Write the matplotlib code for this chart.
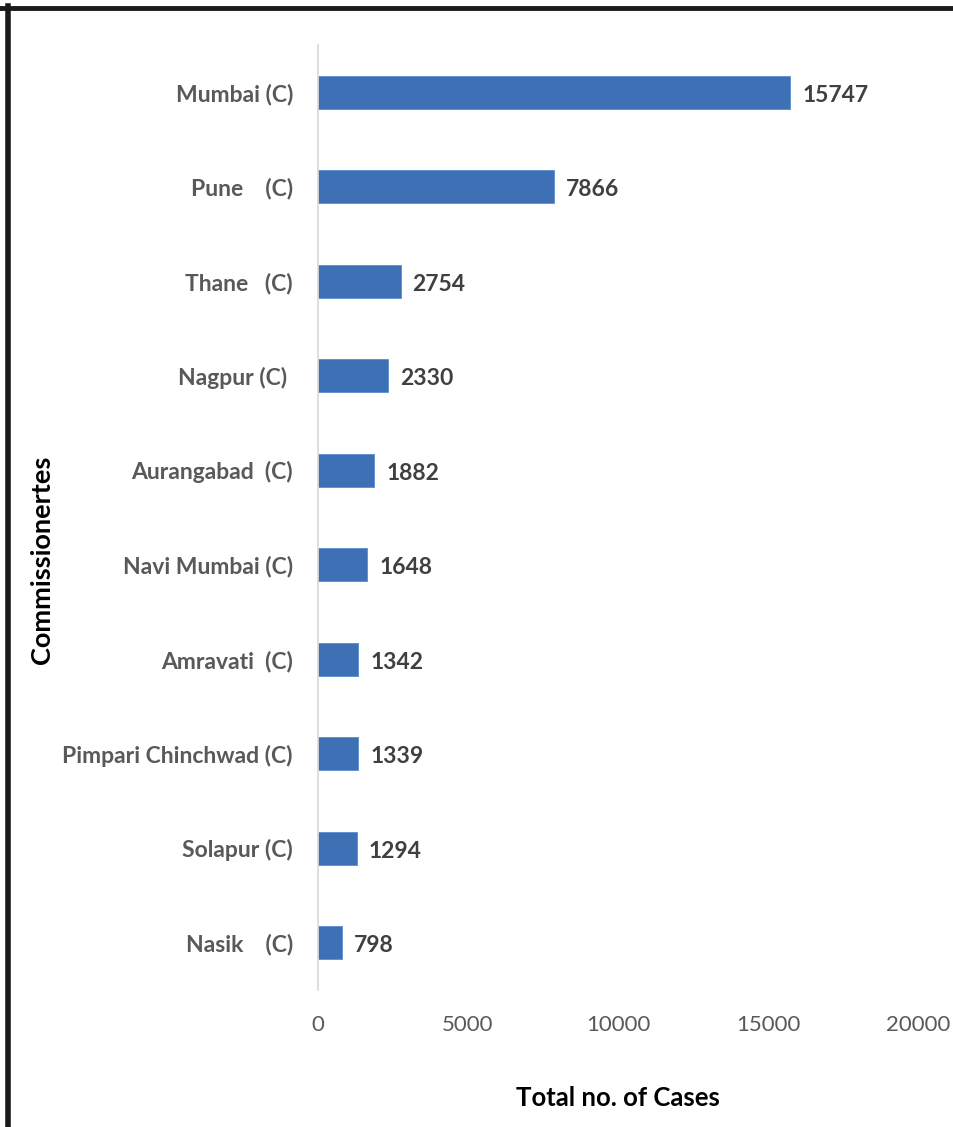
import matplotlib
matplotlib.use("Agg")
from matplotlib import pyplot as plt
from matplotlib.lines import Line2D

regions = ["Mumbai (C)", "Pune    (C)", "Thane   (C)", "Nagpur (C) ", "Aurangabad  (C)",
           "Navi Mumbai (C)", "Amravati  (C)", "Pimpari Chinchwad (C)", "Solapur (C)", "Nasik    (C)"]
cases = [15747, 7866, 2754, 2330, 1882, 1648, 1342, 1339, 1294, 798]
x_ticks = [0, 5000, 10000, 15000, 20000]

plt.rcParams['font.family'] = ['Lato', 'DejaVu Sans']

W, H = 954, 1127
fig = plt.figure(figsize=(W / 100, H / 100), dpi=100)
ax = fig.add_axes([318 / W, 1 - 990 / H, 600 / W, 945 / H])

pos = list(range(len(regions)))
ax.barh(pos, cases, height=0.35, color="#3d70b4", edgecolor="#5b8bd0", linewidth=0.6)
ax.set_ylim(len(regions) - 0.5, -0.5)
ax.set_xlim(0, 20000)

for p, v in zip(pos, cases):
    ax.text(v + 400, p + 0.03, str(v), va="center", ha="left", fontsize=16.5,
            fontweight="bold", color="#404040")

ax.set_yticks(pos)
ax.set_yticklabels(regions, fontsize=16.5, fontweight="bold", color="#595959")
ax.set_xticks(x_ticks)
ax.set_xticklabels([str(t) for t in x_ticks], fontsize=16, color="#595959")
ax.tick_params(axis="both", length=0)
ax.tick_params(axis="y", pad=18)
ax.tick_params(axis="x", pad=18)

for s in ["top", "right", "bottom"]:
    ax.spines[s].set_visible(False)
ax.spines["left"].set_color("#d9d9d9")
ax.spines["left"].set_linewidth(1.2)

ax.set_xlabel("Total no. of Cases", fontsize=18.5, fontweight="bold", color="black", labelpad=37)
fig.text(42 / W, 1 - 560 / H, "Commissionertes", rotation=90, ha="center", va="center",
         fontsize=19.5, fontweight="bold", color="black")

# frame lines at top and left
fig.add_artist(Line2D([0, 1], [1 - 7.5 / H, 1 - 7.5 / H], transform=fig.transFigure,
                      color="#1a1a1a", linewidth=3.5))
fig.add_artist(Line2D([8 / W, 8 / W], [0, 1 - 6 / H], transform=fig.transFigure,
                      color="#1a1a1a", linewidth=4))

fig.savefig("out.png", dpi=100)
